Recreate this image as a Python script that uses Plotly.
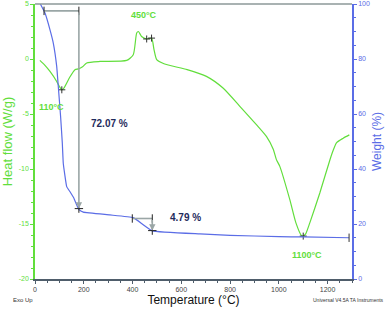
import plotly.graph_objects as go

# ---- data ----
tga_T = [22, 41, 61.5, 75, 89, 95.5, 105, 112, 116, 130, 143, 160, 171, 180, 198, 307, 403, 481, 676, 800, 1000, 1100, 1288]
tga_w = [100, 96.7, 90.6, 85.8, 77.3, 70, 59.1, 49.4, 42.0, 33.6, 31.8, 29.3, 26.9, 25.3, 24.3, 23.3, 22.3, 17.5, 16.4, 15.9, 15.4, 15.3, 15.0]

dsc_T = [20, 40, 61.5, 89, 100, 110, 120, 143, 164, 178, 195, 212, 267, 376, 403, 417, 424, 437, 458, 478, 488, 499, 529, 624,
         703, 771, 840, 908, 949, 977, 990, 1004, 1045, 1070, 1093, 1100, 1110, 1127, 1168, 1209, 1223, 1237, 1264, 1289]
dsc_hf = [-0.13, -0.55, -1.13, -2.04, -2.5, -2.8, -2.6, -1.64, -0.97, -0.9, -0.7, -0.36, -0.22, -0.13, 0.39, 2.36, 2.5, 2.05, 1.82,
          1.9, 0.85, -0.06, -0.43, -0.97, -1.58, -2.64, -4.3, -5.97, -7.04, -8.2, -9.15, -9.76, -12.79, -14.9, -16.06, -16.1,
          -15.9, -14.9, -12.18, -9.2, -8.3, -7.6, -7.2, -6.9]

# weight-loss steps: (T start, T end, weight start, weight end, label)
steps = [(37, 180, 97.5, 25.6, "72.07 %"), (399, 481, 22.0, 17.6, "4.79 %")]
step_label_pos = [(307, 56.7), (617, 22.2)]

# DSC peak labels: (T, heat flow, text)
peaks = [(66, -4.4, "110°C"), (445, 3.96, "450°C"), (1115, -17.8, "1100°C")]
peak_marks_T = [110, 458, 478, 1100]
peak_marks_hf = [-2.8, 1.82, 1.9, -16.1]

x_ticks = [0, 200, 400, 600, 800, 1000, 1200]
hf_ticks = [-20, -15, -10, -5, 0, 5]
w_ticks = [0, 20, 40, 60, 80, 100]

GREEN = "#62de3c"
BLUE = "#5b6de6"
GRAY = "#9aa6a6"
NAVY = "#1f2b5c"
FONT = "Liberation Sans, Arial, sans-serif"

fig = go.Figure()
fig.add_trace(go.Scatter(x=dsc_T, y=dsc_hf, mode="lines", line=dict(color=GREEN, width=1.2, shape="spline", smoothing=0.6),
                         yaxis="y", showlegend=False, hoverinfo="skip"))
fig.add_trace(go.Scatter(x=tga_T, y=tga_w, mode="lines", line=dict(color=BLUE, width=1.2, shape="spline", smoothing=0.3),
                         yaxis="y2", showlegend=False, hoverinfo="skip"))

# step markers
for (t0, t1, w0, w1, lab), (lx, ly) in zip(steps, step_label_pos):
    fig.add_trace(go.Scatter(x=[t0, t1], y=[w0, w0], mode="lines", line=dict(color=GRAY, width=1.6),
                             yaxis="y2", showlegend=False, hoverinfo="skip"))
    fig.add_annotation(x=t1, y=w1, ax=t1, ay=w0, xref="x", yref="y2", axref="x", ayref="y2",
                       showarrow=True, arrowhead=2, arrowsize=0.8, arrowwidth=1.6, arrowcolor=GRAY, text="")
    fig.add_trace(go.Scatter(x=[t0, t1, t1], y=[w0, w0, w1], mode="markers",
                             marker=dict(symbol="line-ns", size=6, line=dict(color="#222222", width=1)),
                             yaxis="y2", showlegend=False, hoverinfo="skip"))
    fig.add_trace(go.Scatter(x=[t1], y=[w1], mode="markers",
                             marker=dict(symbol="line-ew", size=6, line=dict(color="#222222", width=1)),
                             yaxis="y2", showlegend=False, hoverinfo="skip"))
    fig.add_annotation(x=lx, y=ly, xref="x", yref="y2", text="<b>%s</b>" % lab, showarrow=False,
                       font=dict(family=FONT, size=10, color=NAVY))

# end tick of TGA curve
fig.add_trace(go.Scatter(x=[tga_T[-1]], y=[tga_w[-1]], mode="markers",
                         marker=dict(symbol="line-ns", size=6, line=dict(color="#333333", width=1)),
                         yaxis="y2", showlegend=False, hoverinfo="skip"))

fig.add_trace(go.Scatter(x=peak_marks_T, y=peak_marks_hf, mode="markers",
                         marker=dict(symbol="cross-thin", size=5, line=dict(color="#333333", width=1)),
                         yaxis="y", showlegend=False, hoverinfo="skip"))

for t, hf, lab in peaks:
    fig.add_annotation(x=t, y=hf, xref="x", yref="y", text="<b>%s</b>" % lab, showarrow=False,
                       font=dict(family=FONT, size=9, color=GREEN))

fig.add_annotation(x=1.0, y=0.0, xref="paper", yref="paper", text="Universal V4.5A TA Instruments", showarrow=False,
                   xanchor="right", yanchor="top", yshift=-16, xshift=34,
                   font=dict(family=FONT, size=5, color="#333333"))
fig.add_annotation(x=0.0, y=0.0, xref="paper", yref="paper", text="Exo Up", showarrow=False,
                   xanchor="left", yanchor="top", yshift=-16, xshift=-24,
                   font=dict(family=FONT, size=6, color="#333333"))

# top frame line
fig.add_shape(type="line", xref="x domain", yref="y domain", x0=0.0, x1=1.0, y0=1, y1=1,
              line=dict(color="#8c9999", width=1.5))

fig.update_layout(
    width=387, height=309,
    margin=dict(l=35, r=35, t=4, b=30, autoexpand=False),
    paper_bgcolor="white", plot_bgcolor="white",
    font=dict(family=FONT),
    xaxis=dict(range=[0, 1300], tickvals=x_ticks, ticktext=[str(v) for v in x_ticks], automargin=False,
               showgrid=False, zeroline=False, showline=True, linecolor="#4f5d6b", linewidth=1.5,
               ticks="outside", ticklen=3, tickcolor="#4f5d6b", tickfont=dict(size=7, color="#444444"),
               minor=dict(dtick=50, ticks="outside", ticklen=2, tickcolor="#4f5d6b"),
               title=dict(text="Temperature (°C)", font=dict(size=12, color="#111111"), standoff=2)),
    yaxis=dict(range=[-20, 5], tickvals=hf_ticks, ticktext=[str(v) for v in hf_ticks], automargin=False,
               showgrid=False, zeroline=False, showline=True, linecolor=GREEN, linewidth=1.5,
               ticks="outside", ticklen=3, tickcolor=GREEN, tickfont=dict(size=7, color=GREEN),
               minor=dict(dtick=1, ticks="outside", ticklen=2, tickcolor=GREEN),
               title=dict(text="Heat flow (W/g)", font=dict(size=13, color=GREEN), standoff=4)),
    yaxis2=dict(range=[0, 100], tickvals=w_ticks, ticktext=[str(v) for v in w_ticks], overlaying="y", side="right",
                automargin=False,
                showgrid=False, zeroline=False, showline=True, linecolor=BLUE, linewidth=1.5,
                ticks="outside", ticklen=3, tickcolor=BLUE, tickfont=dict(size=7, color=BLUE),
                minor=dict(dtick=5, ticks="outside", ticklen=2, tickcolor=BLUE),
                title=dict(text="Weight (%)", font=dict(size=12, color=BLUE), standoff=4)),
)

fig.write_html("out.html", config={"displayModeBar": False},
               post_script="document.body.style.margin='0';document.body.style.overflow='hidden';")
